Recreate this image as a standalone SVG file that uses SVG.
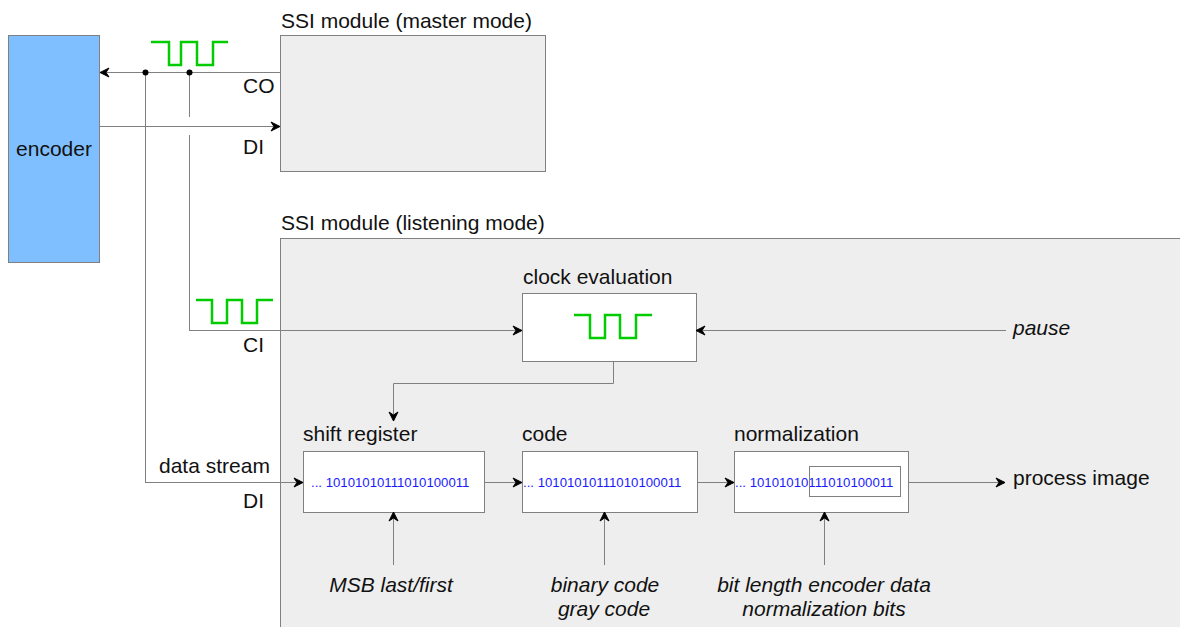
<svg xmlns="http://www.w3.org/2000/svg" width="1180" height="627" viewBox="0 0 1180 627">
<defs>
<marker id="arr" markerWidth="12" markerHeight="12" refX="10" refY="6" orient="auto" markerUnits="userSpaceOnUse">
<path d="M1,1.5 L10,6 L1,10.5 L4,6 Z" fill="#000" stroke="#000" stroke-width="1" stroke-linejoin="miter"/>
</marker>
<style>
.t{font-family:"Liberation Sans",Arial,sans-serif;font-size:21px;fill:#111}
.i{font-family:"Liberation Sans",Arial,sans-serif;font-size:21px;font-style:italic;fill:#111}
.b{font-family:"Liberation Sans",Arial,sans-serif;font-size:13.2px;fill:#1a1aff}
.box{fill:#fff;stroke:#808080;stroke-width:1}
.mod{fill:#eeeeee;stroke:#808080;stroke-width:1}
.ln{fill:none;stroke:#808080;stroke-width:1}
.ar{fill:none;stroke:#808080;stroke-width:1;marker-end:url(#arr)}
.clk{fill:none;stroke:#00cc00;stroke-width:2.5}
</style>
</defs>
<rect width="1180" height="627" fill="#fff"/>

<g id="master-module">
<rect class="mod" x="280.5" y="35.5" width="265" height="136"/>
<text class="t" x="281" y="28">SSI module (master mode)</text>
<text class="t" x="243" y="93">CO</text>
<text class="t" x="243" y="154">DI</text>
</g>

<g id="listening-module">
<rect class="mod" x="280.5" y="238.5" width="920" height="400"/>
<text class="t" x="281" y="230">SSI module (listening mode)</text>
<text class="t" x="243" y="352">CI</text>
<text class="t" x="159" y="473">data stream</text>
<text class="t" x="243" y="508">DI</text>
</g>

<g id="encoder">
<rect x="8.5" y="35.5" width="91" height="227" fill="#80bfff" stroke="#808080"/>
<text class="t" x="54" y="156" text-anchor="middle">encoder</text>
</g>

<g id="clock-co">
<polyline class="clk" points="151,42 169,42 169,65 181,65 181,42 197,42 197,65 213,65 213,42 228,42"/>
</g>
<g id="clock-ci">
<polyline class="clk" points="196,300 212,300 212,323 227,323 227,300 242,300 242,323 257,323 257,300 273,300"/>
</g>

<g id="clock-evaluation">
<rect class="box" x="522.5" y="293.5" width="174" height="68"/>
<text class="t" x="523" y="284">clock evaluation</text>
<polyline class="clk" points="574,315 590,315 590,338 605,338 605,315 620,315 620,338 636,338 636,315 652,315"/>
</g>

<g id="shift-register">
<rect class="box" x="303.5" y="451.5" width="181" height="61"/>
<text class="t" x="303" y="441">shift register</text>
<text class="b" x="311" y="487">... 10101010111010100011</text>
</g>

<g id="code">
<rect class="box" x="522.5" y="451.5" width="175" height="61"/>
<text class="t" x="522" y="441">code</text>
<text class="b" x="523" y="487">... 10101010111010100011</text>
</g>

<g id="normalization">
<rect class="box" x="734.5" y="451.5" width="174" height="61"/>
<text class="t" x="734" y="441">normalization</text>
<text class="b" x="735" y="487">... 10101010111010100011</text>
<rect x="809.5" y="466.5" width="91" height="30" fill="none" stroke="#808080"/>
</g>

<g id="labels">
<text class="i" x="1013" y="335">pause</text>
<text class="t" x="1013" y="485">process image</text>
<text class="i" x="391" y="592" text-anchor="middle">MSB last/first</text>
<text class="i" x="605" y="592" text-anchor="middle">binary code</text>
<text class="i" x="604" y="616" text-anchor="middle">gray code</text>
<text class="i" x="824" y="592" text-anchor="middle">bit length encoder data</text>
<text class="i" x="824" y="616" text-anchor="middle">normalization bits</text>
</g>

<g id="connectors">
<path class="ar" d="M280,72.5 L100,72.5"/>
<path class="ar" d="M100,126.5 L280,126.5"/>
<path class="ln" d="M145.5,72 L145.5,482.5"/>
<path class="ar" d="M145,482.5 L303,482.5"/>
<path class="ln" d="M189.5,72 L189.5,117"/>
<path class="ln" d="M189.5,135 L189.5,330.5"/>
<path class="ar" d="M189,330.5 L522,330.5"/>
<path class="ar" d="M1006,330.5 L696,330.5"/>
<path class="ar" d="M613.5,361 L613.5,383.5 L393.5,383.5 L393.5,421"/>
<path class="ar" d="M484,482.5 L522,482.5"/>
<path class="ar" d="M697,482.5 L734,482.5"/>
<path class="ar" d="M908,482.5 L1005,482.5"/>
<path class="ar" d="M393.5,565 L393.5,512"/>
<path class="ar" d="M604.5,565 L604.5,512"/>
<path class="ar" d="M824.5,565 L824.5,512"/>
<circle cx="145.5" cy="72.5" r="3" fill="#000"/>
<circle cx="189.5" cy="72.5" r="3" fill="#000"/>
</g>
</svg>
